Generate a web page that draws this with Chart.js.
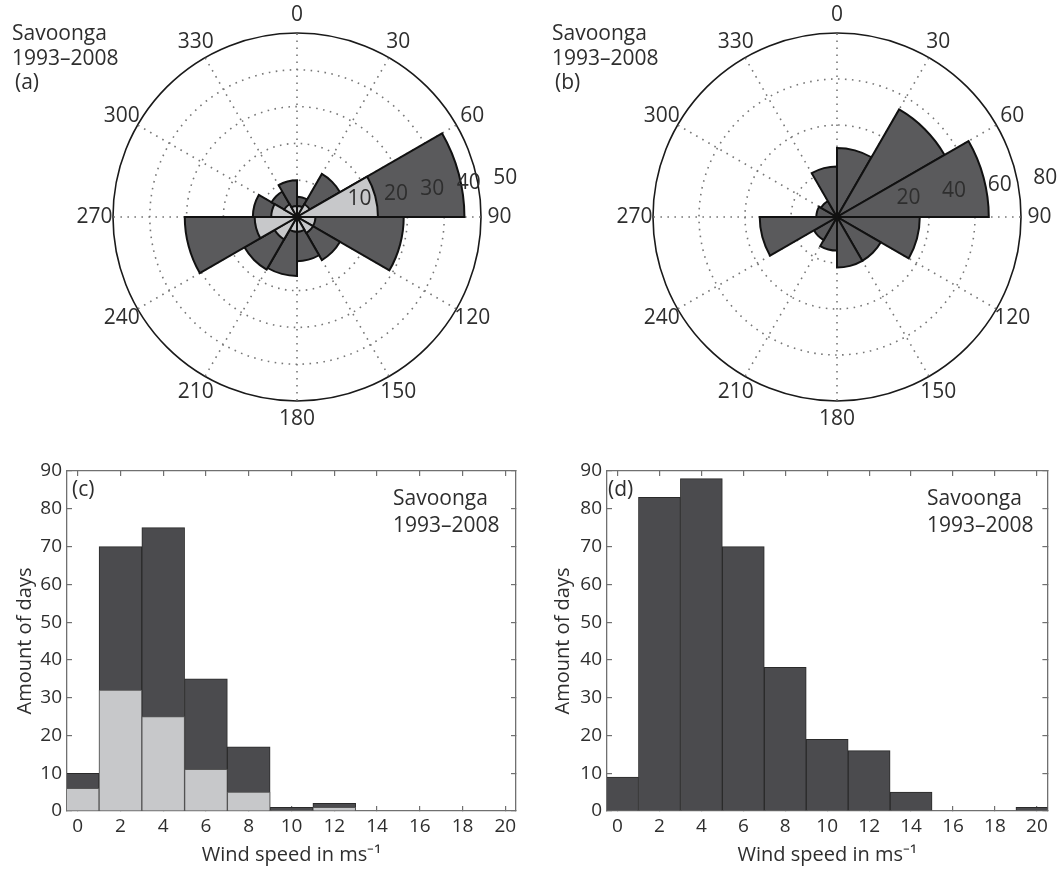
<!DOCTYPE html>
<html>
<head>
<meta charset="utf-8">
<script src="https://cdn.jsdelivr.net/npm/chart.js@4.4.1/dist/chart.umd.min.js"></script>
<style>
  body { margin: 0; background: #fff; }
  #fig { position: relative; width: 1057px; height: 870px; font-family: 'Open Sans', sans-serif; color: #2e2e2e; }
  canvas { position: absolute; }
  .note { position: absolute; font-size: 21px; line-height: 24.5px; white-space: nowrap; }
</style>
</head>
<body>
<div id="fig">
  <canvas id="roseA" width="540" height="440" style="left:0;top:0"></canvas>
  <canvas id="roseB" width="517" height="440" style="left:540px;top:0"></canvas>
  <canvas id="histC" width="530" height="430" style="left:0;top:440px"></canvas>
  <canvas id="histD" width="517" height="430" style="left:540px;top:440px"></canvas>
  <div class="note" style="left:12px;top:20px">Savoonga<br>1993–2008<br><span style="margin-left:3px">(a)</span></div>
  <div class="note" style="left:552px;top:20px">Savoonga<br>1993–2008<br><span style="margin-left:3px">(b)</span></div>
  <div class="note" style="left:72px;top:476px">(c)</div>
  <div class="note" style="left:393px;top:484px;line-height:27px">Savoonga<br>1993–2008</div>
  <div class="note" style="left:608px;top:476px">(d)</div>
  <div class="note" style="left:927px;top:484px;line-height:27px">Savoonga<br>1993–2008</div>
</div>
<script>
// wind direction bins (degrees, clockwise from north)
const directions = ['0', '30', '60', '90', '120', '150', '180', '210', '240', '270', '300', '330'];
// (a) all days / subset, (b) all days
const roseAllA = [5.5, 13.5, 45.5, 29, 13.5, 12, 16, 16.5, 30.5, 12, 8, 10];
const roseSubA = [3, 4, 22, 5, 5, 4, 4, 7, 11.5, 7, 4, 3];
const roseAllB = [30, 54, 66, 36, 22, 22, 14.6, 11.6, 33.6, 9, 8, 22];
const ringsA = [10, 20, 30, 40, 50];
const ringsB = [20, 40, 60, 80];

// wind speed histogram
const speedBins = [0, 2, 4, 6, 8, 10, 12, 14, 16, 18, 20];
const daysAllC = [10, 70, 75, 35, 17, 1, 2, 0, 0, 0, 0];
const daysSubC = [6, 32, 25, 11, 5, 0, 1, 0, 0, 0, 0];
const daysAllD = [9, 83, 88, 70, 38, 19, 16, 5, 0, 0, 1];

const DARK_ROSE = '#5a5a5c';
const DARK_BAR = '#4b4b4e';
const LIGHT = '#c7c8ca';
const GRID = '#777';
const AXIS = '#707070';

Chart.defaults.font.family = "'Open Sans', sans-serif";
Chart.defaults.color = '#2e2e2e';

// angle labels round the circle and ring labels along 82 deg
const roseLabels = {
  id: 'roseLabels',
  afterDraw(chart, args, opts) {
    const r = chart.scales.r;
    const ctx = chart.ctx;
    ctx.save();
    ctx.fillStyle = '#2e2e2e';
    ctx.font = "21px 'Open Sans'";
    ctx.textAlign = 'center';
    ctx.textBaseline = 'middle';
    directions.forEach((lab, i) => {
      const p = r.getPointPosition(i, r.drawingArea * 1.1);
      ctx.fillText(lab, p.x, p.y);
    });
    const a = (82 - 90) * Math.PI / 180;
    ctx.textAlign = 'left';
    opts.rings.forEach(v => {
      const d = r.getDistanceFromCenterForValue(v);
      ctx.fillText(String(v), r.xCenter + d * Math.cos(a) + 14, r.yCenter + d * Math.sin(a) - 13);
    });
    ctx.restore();
  }
};

function roseChart(id, all, sub, rings, padRight) {
  const rMax = rings[rings.length - 1];
  const datasets = [];
  if (sub) datasets.push({ data: sub, backgroundColor: LIGHT, borderColor: '#111', borderWidth: 2 });
  datasets.push({ data: all, backgroundColor: DARK_ROSE, borderColor: '#111', borderWidth: 2 });
  return new Chart(document.getElementById(id), {
    type: 'polarArea',
    data: { labels: directions, datasets },
    options: {
      responsive: false,
      animation: false,
      layout: { padding: { left: 113, right: padRight, top: 33, bottom: 39 } },
      elements: { arc: { borderJoinStyle: 'miter' } },
      plugins: {
        legend: { display: false },
        tooltip: { enabled: false },
        roseLabels: { rings }
      },
      scales: {
        r: {
          min: 0,
          max: rMax,
          startAngle: 0,
          ticks: { display: false, stepSize: rings[0] },
          pointLabels: { display: false },
          grid: {
            circular: true,
            color: c => c.tick.value === rMax ? '#1a1a1a' : GRID,
            lineWidth: c => c.tick.value === rMax ? 1.6 : 1.6
          },
          border: { dash: c => c.tick.value === rMax ? [] : [1.6, 5.4] },
          angleLines: { display: true, color: GRID, lineWidth: 1.6, borderDash: [1.6, 5.4] }
        }
      }
    },
    plugins: [roseLabels]
  });
}

function frameAxis(extra) {
  return Object.assign({
    offset: false,
    grid: { drawOnChartArea: false, offset: false, tickLength: -5, color: AXIS, lineWidth: 1.2 },
    border: { color: AXIS, width: 1.3 }
  }, extra);
}

function histChart(id, sets, rightWidth, titlePad) {
  const datasets = sets.map(s => ({
    data: speedBins.map((x, i) => ({ x, y: s.values[i] })),
    backgroundColor: s.color,
    borderColor: s.border,
    borderWidth: 1
  }));
  const xTicks = { stepSize: 2, includeBounds: false, autoSkip: false, maxRotation: 0 };
  const yTicks = { stepSize: 10, includeBounds: false, autoSkip: false };
  return new Chart(document.getElementById(id), {
    type: 'bar',
    data: { datasets },
    options: {
      responsive: false,
      animation: false,
      layout: { autoPadding: false, padding: 0 },
      datasets: { bar: { grouped: false, barPercentage: 1, categoryPercentage: 1, clip: 0 } },
      plugins: { legend: { display: false }, tooltip: { enabled: false } },
      scales: {
        x: frameAxis({
          type: 'linear', position: 'bottom', min: -0.5, max: 20.5,
          ticks: Object.assign({ padding: 9, font: { size: 19 } }, xTicks),
          title: { display: true, text: 'Wind speed in ms⁻¹', font: { size: 20 }, padding: { top: 0, bottom: 3 } },
          afterFit: s => { s.height = 59; }
        }),
        x2: frameAxis({
          type: 'linear', position: 'top', min: -0.5, max: 20.5,
          ticks: Object.assign({ display: false }, xTicks),
          afterFit: s => { s.height = 31; }
        }),
        y: frameAxis({
          type: 'linear', position: 'left', min: 0, max: 90,
          ticks: Object.assign({ padding: 10, font: { size: 19 } }, yTicks),
          title: { display: true, text: 'Amount of days', font: { size: 20 }, padding: { top: titlePad, bottom: 0 } },
          afterFit: s => { s.width = 67; }
        }),
        y2: frameAxis({
          type: 'linear', position: 'right', min: 0, max: 90,
          ticks: Object.assign({ display: false }, yTicks),
          afterFit: s => { s.width = rightWidth; }
        })
      }
    }
  });
}

roseChart('roseA', roseAllA, roseSubA, ringsA, 59);
roseChart('roseB', roseAllB, null, ringsB, 36);

histChart('histC', [
  { values: daysSubC, color: LIGHT, border: '#555' },
  { values: daysAllC, color: DARK_BAR, border: '#2a2a2a' }
], 14, 13);
histChart('histD', [
  { values: daysAllD, color: DARK_BAR, border: '#2a2a2a' }
], 5, 11.5);
</script>
</body>
</html>
